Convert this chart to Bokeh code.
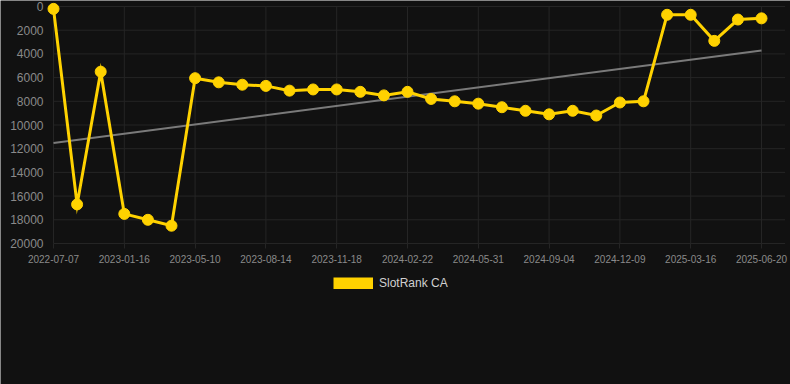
import numpy as np
from bokeh.plotting import figure
from bokeh.models import Range1d, FixedTicker, Legend, LegendItem
from bokeh.embed import file_html
from bokeh.resources import INLINE

# --- data ---
rank_values = [200, 16700, 5500, 17500, 18000, 18500, 6050, 6400, 6600, 6700,
               7100, 7000, 7000, 7200, 7500, 7200, 7800, 8000, 8200, 8500,
               8800, 9100, 8800, 9200, 8100, 8000, 700, 700, 2900, 1100, 1000]
tick_labels = ["2022-07-07", "2023-01-16", "2023-05-10", "2023-08-14", "2023-11-18",
               "2024-02-22", "2024-05-31", "2024-09-04", "2024-12-09", "2025-03-16",
               "2025-06-20"]
tick_step = 3
y_ticks = [0, 2000, 4000, 6000, 8000, 10000, 12000, 14000, 16000, 18000, 20000]
series_name = "SlotRank CA"

BG = "#111111"
GOLD = "#ffd200"
GRID = "#252525"
TXT = "#8a8a8a"
FONT = "Liberation Sans"

# layout (pixels): the frame covers the whole canvas
W, H = 790, 384
LEFT_PX, RIGHT_PX = 53, 761   # pixel columns of first and last point
TOP_PX, AXIS_PX = 6, 243      # pixel rows of rank 0 and rank 20000
n = len(rank_values)
x_min, x_max = 0, n - 1
y_min, y_max = y_ticks[0], y_ticks[-1]
ux = (RIGHT_PX - LEFT_PX) / (x_max - x_min)
uy = (AXIS_PX - TOP_PX) / (y_max - y_min)
x_range = Range1d(x_min - LEFT_PX / ux, x_max + (W - RIGHT_PX) / ux)
y_range = Range1d(y_max + (H - AXIS_PX) / uy, y_min - TOP_PX / uy)
plot_right = n  # right end of the plotting area (one step past last point)

x_idx = list(range(n))
coef = np.polyfit(x_idx, rank_values, 1)
trend_x = [x_idx[0], x_idx[-1]]
trend_y = [float(np.polyval(coef, v)) for v in trend_x]

p = figure(width=W, height=H, output_backend="svg", toolbar_location=None,
           x_range=x_range, y_range=y_range,
           min_border_left=0, min_border_right=0, min_border_top=0, min_border_bottom=0,
           background_fill_color=BG, border_fill_color=BG, outline_line_color=None)

tick_pos = [i * tick_step for i in range(len(tick_labels))]

# grid lines limited to the plotting area
p.xgrid.visible = False
p.ygrid.visible = False
p.segment(x0=[x_min] * len(y_ticks), x1=[plot_right] * len(y_ticks), y0=y_ticks, y1=y_ticks,
          line_color=GRID, line_width=1)
p.segment(x0=tick_pos, x1=tick_pos, y0=[y_min] * len(tick_pos), y1=[y_max] * len(tick_pos),
          line_color=GRID, line_width=1)

p.line(trend_x, trend_y, line_color="#7a7a7a", line_width=2)
p.line(x_idx, rank_values, line_color=GOLD, line_width=3, line_join="miter")
p.scatter(x_idx, rank_values, size=11, fill_color=GOLD, line_color=GOLD)
swatch = p.line(x_idx, rank_values, line_color=GOLD, line_width=12, line_cap="butt", visible=False)

p.xaxis.ticker = FixedTicker(ticks=tick_pos)
p.xaxis.major_label_overrides = {t: lab for t, lab in zip(tick_pos, tick_labels)}
p.xaxis.fixed_location = y_max
p.yaxis.ticker = FixedTicker(ticks=y_ticks)
p.yaxis.fixed_location = x_min

for ax in (p.xaxis, p.yaxis):
    ax.axis_line_color = None
    ax.minor_tick_line_color = None
    ax.major_label_text_color = TXT
    ax.major_label_text_font = FONT
p.xaxis.major_label_text_font_size = "10px"
p.yaxis.major_label_text_font_size = "12px"
p.xaxis.major_tick_out = 5
p.xaxis.major_tick_in = 0
p.xaxis.major_tick_line_color = GRID
p.xaxis.major_label_standoff = 6
p.yaxis.major_tick_out = 0
p.yaxis.major_tick_in = 0
p.yaxis.major_label_standoff = 10

legend = Legend(items=[LegendItem(label=series_name, renderers=[swatch])],
                location=(333, 94), orientation="horizontal",
                glyph_width=40, glyph_height=12, label_height=12, label_standoff=6,
                padding=0, margin=0, spacing=0,
                label_text_font=FONT, label_text_font_size="12px", label_text_color="#d0d0d0",
                background_fill_alpha=0, border_line_alpha=0, inactive_fill_alpha=0)
p.add_layout(legend, "center")

open("out.html", "w").write(file_html(p, INLINE))
